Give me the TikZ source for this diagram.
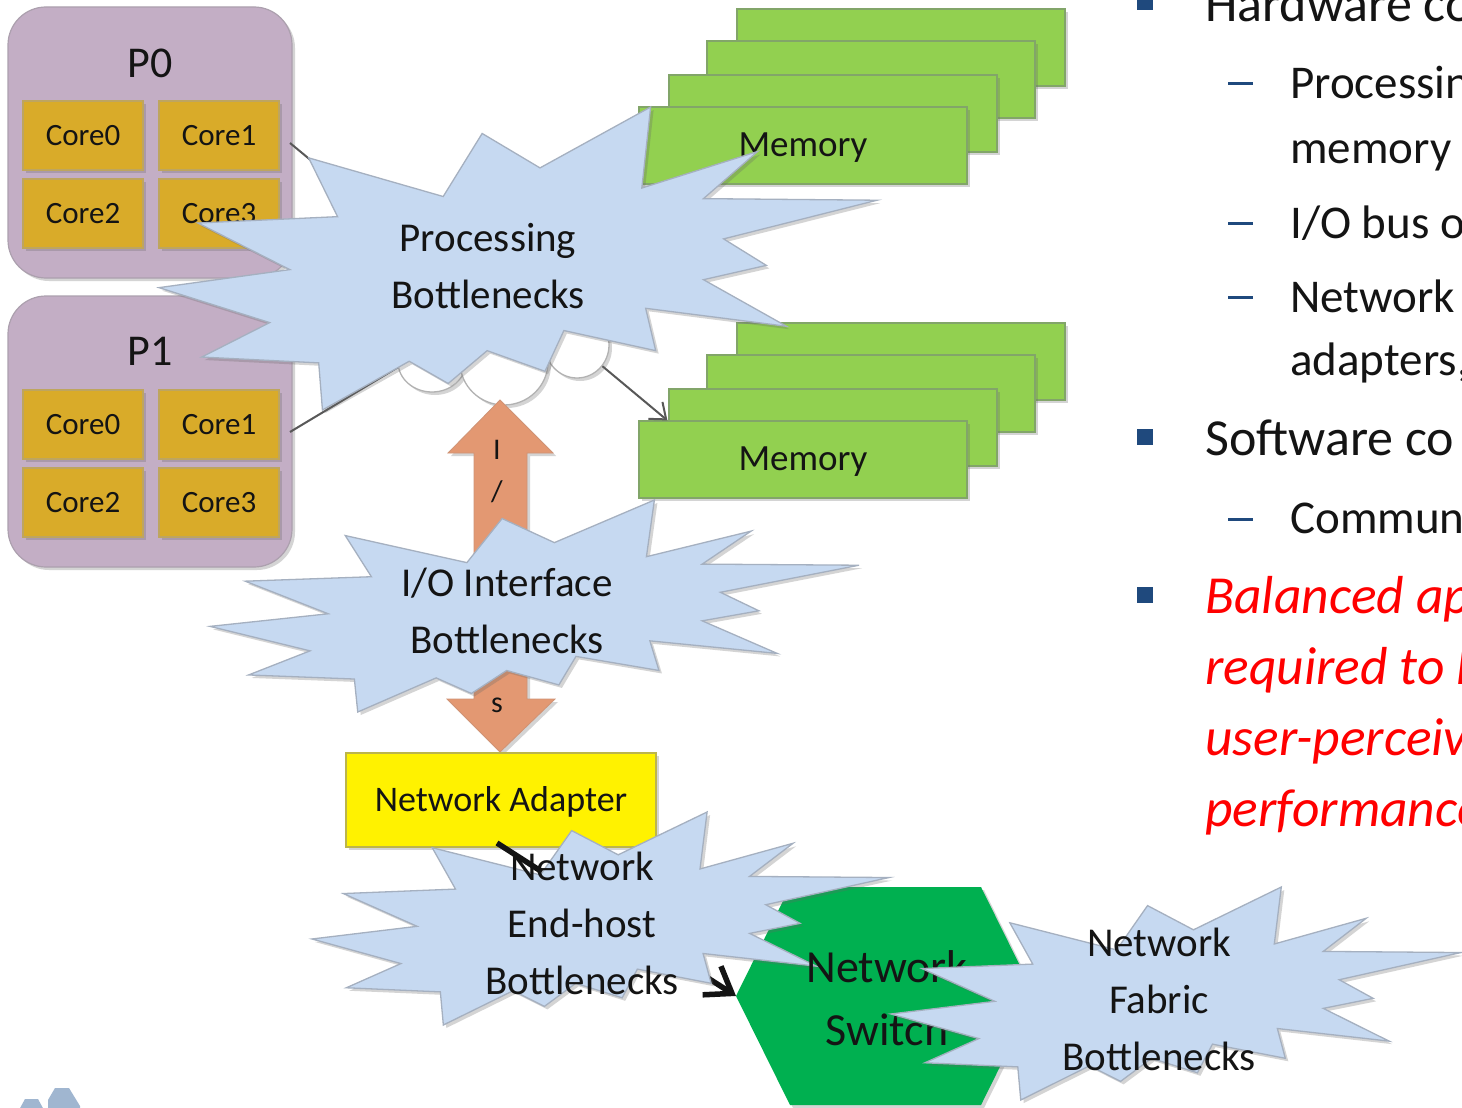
\documentclass[tikz,border=0pt]{standalone}
\usepackage{fontspec}
\setmainfont{Carlito}
\usetikzlibrary{shadows,arrows.meta,calc}

% palette
\definecolor{procfill}{RGB}{195,174,197}
\definecolor{procline}{RGB}{172,160,174}
\definecolor{corefill}{RGB}{217,171,41}
\definecolor{coreline}{RGB}{190,165,95}
\definecolor{memfill}{RGB}{146,208,80}
\definecolor{memline}{RGB}{130,165,105}
\definecolor{burstfill}{RGB}{198,217,241}
\definecolor{burstline}{RGB}{165,176,192}
\definecolor{ioarrow}{RGB}{227,152,114}
\definecolor{switchfill}{RGB}{0,176,80}
\definecolor{bulletblue}{RGB}{31,73,125}
\definecolor{logoblue}{RGB}{160,182,208}
\definecolor{inktext}{RGB}{20,20,20}
\definecolor{connline}{RGB}{88,88,88}
\definecolor{alertred}{RGB}{255,0,0}

\tikzset{
  softshadow/.style={drop shadow={shadow xshift=3pt,shadow yshift=-3pt,opacity=.28,fill=black!60}},
  chip/.style={draw=procline, line width=1.2pt, fill=procfill, rounded corners=38pt,
    minimum width=284pt, minimum height=271pt, inner sep=0pt, softshadow},
  chiplabel/.style={text=inktext, inner sep=0pt, font=\fontsize{44}{50}\selectfont},
  core/.style={draw=coreline, line width=1.2pt, fill=corefill, minimum width=120pt,
    minimum height=69pt, inner sep=0pt, text=inktext,
    font=\fontsize{31}{36}\selectfont, softshadow},
  membox/.style={draw=memline, line width=1.2pt, fill=memfill, minimum width=328pt,
    minimum height=77pt, inner sep=0pt, softshadow},
  memtext/.style={text=inktext, inner sep=0pt, font=\fontsize{37}{44}\selectfont},
  burst/.style={fill=burstfill, draw=burstline, line width=1.3pt, softshadow},
  bursttext/.style={align=center, text=inktext, inner sep=0pt,
    font=\fontsize{41}{57}\selectfont},
  cloudarc/.style={fill=white, draw=black!30, line width=1.3pt, softshadow},
  conn/.style={draw=connline, line width=2pt},
  ioarr/.style={fill=ioarrow, draw=ioarrow!80!gray, line width=0.8pt, softshadow},
  iolbl/.style={text=inktext, inner sep=0pt, font=\fontsize{30}{34}\selectfont},
  adapterbox/.style={draw=black!25!yellow!80!gray, line width=1.2pt, fill=yellow,
    minimum width=310pt, minimum height=94pt, inner sep=0pt, softshadow},
  adaptertext/.style={text=inktext, inner sep=0pt, font=\fontsize{36}{42}\selectfont},
  switchshape/.style={fill=switchfill, softshadow},
  switchtext/.style={align=center, text=inktext, inner sep=0pt,
    font=\fontsize{46}{63}\selectfont},
  linkarrow/.style={draw=black!92, line width=5.5pt,
    -{Straight Barb[length=24pt,width=34pt]}},
  hdr/.style={anchor=base west, inner sep=0pt, text=inktext,
    font=\fontsize{52}{60}\selectfont},
  sub/.style={anchor=base west, inner sep=0pt, text=inktext,
    font=\fontsize{47}{54}\selectfont},
  alert/.style={anchor=base west, inner sep=0pt, text=alertred,
    font=\fontsize{53.5}{60}\selectfont\itshape},
  pics/explosion/.style 2 args={code={
    \path[burst]
      ({#1*0.53065},{#2*0.20102}) -- ({#1*0.68472},{#2*0})       --
      ({#1*0.67245},{#2*0.26745}) -- ({#1*0.83366},{#2*0.14685}) --
      ({#1*0.75833},{#2*0.30241}) -- ({#1*1},{#2*0.30764})       --
      ({#1*0.78634},{#2*0.43528}) -- ({#1*0.84583},{#2*0.52269}) --
      ({#1*0.75833},{#2*0.56991}) -- ({#1*0.87394},{#2*0.72370}) --
      ({#1*0.67778},{#2*0.66435}) -- ({#1*0.69176},{#2*0.80417}) --
      ({#1*0.56389},{#2*0.73773}) -- ({#1*0.53759},{#2*0.87231}) --
      ({#1*0.45704},{#2*0.80417}) -- ({#1*0.40278},{#2*0.91259}) --
      ({#1*0.34847},{#2*0.83912}) -- ({#1*0.22764},{#2*1})       --
      ({#1*0.22245},{#2*0.84444}) -- ({#1*0.05949},{#2*0.82523}) --
      ({#1*0.15417},{#2*0.71157}) -- ({#1*0},{#2*0.59616})       --
      ({#1*0.18218},{#2*0.53667}) -- ({#1*0.05426},{#2*0.38287}) --
      ({#1*0.24870},{#2*0.36190}) -- ({#1*0.20843},{#2*0.16782}) --
      ({#1*0.39583},{#2*0.29546}) -- ({#1*0.45009},{#2*0.08736}) -- cycle;
  }},
}

\begin{document}
\begin{tikzpicture}[x=1pt,y=-1pt]
\useasboundingbox (0,0) rectangle (1462,1108);
\clip (0,0) rectangle (1462,1108);
\fill[white] (0,0) rectangle (1462,1108);

% processors with their cores
\node[chip] (p0) at (150,142.5) {};
\node[chiplabel] (p0lbl) at (150,63) {P0};
\node[core] (c00) at (83,135.5) {Core0};
\node[core] (c01) at (219,135.5) {Core1};
\node[core] (c02) at (83,213.5) {Core2};
\node[core] (c03) at (219,213.5) {Core3};

\node[chip] (p1) at (150,431.5) {};
\node[chiplabel] (p1lbl) at (150,351) {P1};
\node[core] (c10) at (83,424.5) {Core0};
\node[core] (c11) at (219,424.5) {Core1};
\node[core] (c12) at (83,502.5) {Core2};
\node[core] (c13) at (219,502.5) {Core3};

% memory banks, back to front
\node[membox] (memA4) at (901,47.5) {};
\node[membox] (memA3) at (871,79.5) {};
\node[membox] (memA2) at (833,113.5) {};
\node[membox] (memA1) at (803,145.5) {};
\node[memtext] (memA1t) at (803,148) {Memory};
\node[membox] (memB4) at (901,361.5) {};
\node[membox] (memB3) at (871,393.5) {};
\node[membox] (memB2) at (833,427.5) {};
\node[membox] (memB1) at (803,459.5) {};
\node[memtext] (memB1t) at (803,462) {Memory};

% links from the processors into the cloud and on to memory
\coordinate (p0out) at (290,143);
\coordinate (p0tap) at (540,350);
\coordinate (p1out) at (290,432);
\coordinate (p1tap) at (405,363);
\coordinate (cloudout) at (577,345);
\draw[conn] (p0out) -- (p0tap);
\draw[conn] (p1out) -- (p1tap);
\draw[conn, -{Straight Barb[length=14pt,width=22pt]}] (cloudout) -- ($(memB1.north west)+(29,0)$);

% cloud lobes peeking out under the processing burst
\path[cloudarc] (432,362) ellipse [x radius=34pt, y radius=30pt];
\path[cloudarc] (577,345) ellipse [x radius=32pt, y radius=33pt];
\path[cloudarc] (504,362) ellipse [x radius=44pt, y radius=43pt];

% processing bottlenecks
\pic (procburst) at (159,107) {explosion={718}{303}};
\node[bursttext] (procT) at (488,266) {Processing\\Bottlenecks};

% I/O double arrow
\path[ioarr] (500,400) -- (553,453) -- (527,453) -- (527,699) -- (555,699) --
  (500,752) -- (447,699) -- (474,699) -- (474,453) -- (448,453) -- cycle;
\node[iolbl] (ioI) at (497,450) {I};
\node[iolbl] (ioSlash) at (497,492) {/};
\node[iolbl] (ioS) at (497,705) {s};

% I/O interface bottlenecks
\pic (ioburst) at (210,500) {explosion={649}{212}};
\node[bursttext] (ioT) at (507,611) {I/O Interface\\Bottlenecks};

% network adapter and link to the switch
\node[adapterbox] (adapter) at (501,800) {};
\node[adaptertext] (adaptert) at (501,802) {Network Adapter};
\coordinate (adout) at (497,843);
\coordinate (swW) at (736,996);
\draw[linkarrow] (adout) -- (swW);

% network switch
\path[switchshape] (swW) -- (790,887) -- (981,887) -- (1035,996) -- (981,1105) --
  (790,1105) -- cycle;

% end-host bottlenecks
\pic (hostburst) at (312,812) {explosion={577}{213}};
\node[bursttext] (hostT) at (582,923) {Network\\End-host\\Bottlenecks};

\node[switchtext] (switchT) at (887,998) {Network\\Switch};

% fabric bottlenecks
\pic (fabricburst) at (891,887) {explosion={570}{213}};
\node[bursttext] (fabricT) at (1159,999) {Network\\Fabric\\Bottlenecks};

% logo corner
\path[fill=logoblue] (25,1099) -- (38,1099) -- (44,1110) -- (19,1110) -- cycle;
\path[fill=logoblue] (55,1088) -- (69,1088) -- (80,1106) -- (80,1110) -- (48,1110) -- (48,1100) -- cycle;

% bullet list
\path[fill=bulletblue] (1137,-6) rectangle (1153,10);
\path[fill=bulletblue] (1137,429) rectangle (1153,445);
\path[fill=bulletblue] (1137,587) rectangle (1153,603);
\path[fill=bulletblue] (1228,82.5) rectangle (1253,85.5);
\path[fill=bulletblue] (1228,221.5) rectangle (1253,224.5);
\path[fill=bulletblue] (1228,295.5) rectangle (1253,298.5);
\path[fill=bulletblue] (1228,517.5) rectangle (1253,520.5);

\node[hdr] (hw) at (1205,22) {Hardware co};
\node[sub] (hw1a) at (1290,99) {Processin};
\node[sub] (hw1b) at (1290,163) {memory};
\node[sub] (hw2) at (1290,238) {I/O bus o};
\node[sub] (hw3a) at (1290,312) {Network};
\node[sub] (hw3b) at (1290,375) {adapters,};
\node[hdr] (sw) at (1205,455) {Software co};
\node[sub] (sw1) at (1290,533) {Commun};
\node[alert] (bal1) at (1205,613) {Balanced ap};
\node[alert] (bal2) at (1205,684) {required to h};
\node[alert] (bal3) at (1205,755) {user-perceiv};
\node[alert] (bal4) at (1205,826) {performance};
\end{tikzpicture}
\end{document}
